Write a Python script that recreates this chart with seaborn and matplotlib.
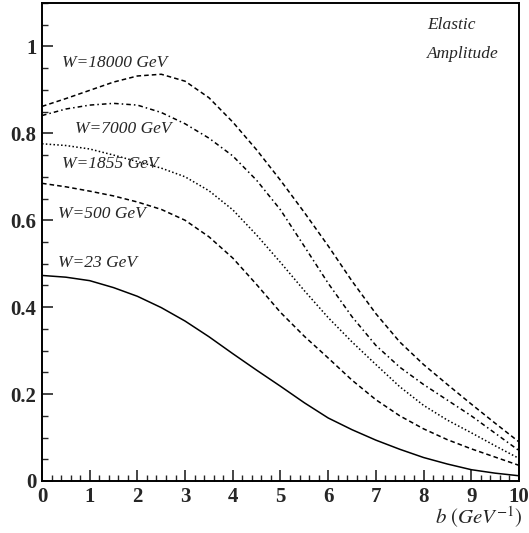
import numpy as np
import pandas as pd
import matplotlib
matplotlib.use("Agg")
import matplotlib.pyplot as plt
import seaborn as sns
from matplotlib.ticker import MultipleLocator

# impact parameter b (GeV^-1)
b = [0, 0.5, 1, 1.5, 2, 2.5, 3, 3.5, 4, 4.5, 5,
     5.5, 6, 6.5, 7, 7.5, 8, 8.5, 9, 9.5, 10]

amp_18000 = [0.862, 0.880, 0.899, 0.918, 0.932, 0.936, 0.920, 0.882, 0.826, 0.762, 0.692,
             0.618, 0.541, 0.460, 0.385, 0.320, 0.268, 0.222, 0.177, 0.133, 0.090]
amp_7000 = [0.841, 0.856, 0.865, 0.869, 0.865, 0.848, 0.822, 0.789, 0.748, 0.692, 0.624,
            0.540, 0.455, 0.378, 0.312, 0.262, 0.222, 0.186, 0.150, 0.110, 0.070]
amp_1855 = [0.776, 0.772, 0.764, 0.750, 0.735, 0.720, 0.700, 0.668, 0.624, 0.566, 0.503,
            0.438, 0.376, 0.320, 0.268, 0.217, 0.174, 0.140, 0.111, 0.081, 0.052]
amp_500 = [0.685, 0.677, 0.667, 0.656, 0.642, 0.625, 0.600, 0.562, 0.513, 0.452, 0.388,
           0.333, 0.283, 0.232, 0.187, 0.150, 0.120, 0.095, 0.074, 0.055, 0.036]
amp_23 = [0.473, 0.469, 0.461, 0.445, 0.425, 0.399, 0.368, 0.332, 0.293, 0.255, 0.218,
          0.180, 0.145, 0.118, 0.094, 0.073, 0.054, 0.039, 0.026, 0.018, 0.012]

labels = ["W=18000 GeV", "W=7000 GeV", "W=1855 GeV", "W=500 GeV", "W=23 GeV"]
series = [amp_18000, amp_7000, amp_1855, amp_500, amp_23]

sns.set_theme(style="ticks")
plt.rcParams["font.family"] = ["Liberation Serif", "DejaVu Serif"]
plt.rcParams["mathtext.fontset"] = "stix"

df = pd.DataFrame({"b": b * len(series),
                   "amp": sum(series, []),
                   "W": sum([[l] * len(b) for l in labels], [])})

fig = plt.figure(figsize=(5.29, 5.33), dpi=100)
ax = fig.add_axes([0.0794, 0.0976, 0.9016, 0.8968])

dash_map = {"W=18000 GeV": (3, 2),
            "W=7000 GeV": (3, 2, 1, 2),
            "W=1855 GeV": (1, 1.5),
            "W=500 GeV": (3, 2),
            "W=23 GeV": ""}
sns.lineplot(data=df, x="b", y="amp", hue="W", style="W", dashes=dash_map,
             palette=["black"] * 5, linewidth=1.1, legend=False, ax=ax)

# curve labels
lab_pos = [(0.42, 0.963), (0.70, 0.810), (0.42, 0.730), (0.33, 0.614), (0.33, 0.502)]
for txt, (x, y) in zip(labels, lab_pos):
    ax.text(x, y, txt, fontsize=12.5, style="italic", va="center", ha="left")

ax.text(8.07, 1.05, "Elastic", fontsize=12.5, style="italic", va="center")
ax.text(8.07, 0.982, "Amplitude", fontsize=12.5, style="italic", va="center")

ax.set_xlim(0, 10)
ax.set_ylim(0, 1.1)
ax.xaxis.set_major_locator(MultipleLocator(1))
ax.xaxis.set_minor_locator(MultipleLocator(0.2))
ax.yaxis.set_minor_locator(MultipleLocator(0.05))
ax.set_yticks([0, 0.2, 0.4, 0.6, 0.8, 1.0])
ax.set_yticklabels(["0", "0.2", "0.4", "0.6", "0.8", "1"])
ax.tick_params(which="major", direction="in", length=8, width=1.2, labelsize=15, pad=4)
ax.tick_params(which="minor", direction="in", length=4, width=1.0)
for lab in ax.get_xticklabels() + ax.get_yticklabels():
    lab.set_fontweight("bold")
for sp in ax.spines.values():
    sp.set_linewidth(1.4)
    sp.set_color("black")

ax.set_xlabel("")
ax.set_ylabel("")
fig.text(0.988, 0.005, r"$b\ (GeV^{-1})$", fontsize=15, ha="right", va="bottom")

fig.savefig("out.png", dpi=100)
